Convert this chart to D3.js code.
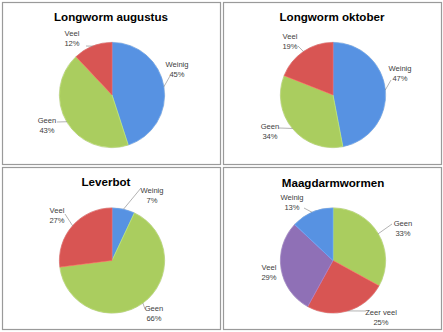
<!DOCTYPE html>
<html><head><meta charset="utf-8">
<script src="https://cdn.jsdelivr.net/npm/d3@7"></script>
<style>
html,body{margin:0;padding:0;background:#fff;}
svg{display:block;}
</style></head>
<body><svg id="c" width="443" height="332"></svg>
<script>
// ---- data ----
const titles = ["Longworm augustus", "Longworm oktober", "Leverbot", "Maagdarmwormen"];
const cats1 = ["Weinig", "Geen", "Veel"];
const vals1 = [45, 43, 12];
const cats2 = ["Weinig", "Geen", "Veel"];
const vals2 = [47, 34, 19];
const cats3 = ["Weinig", "Geen", "Veel"];
const vals3 = [7, 66, 27];
const cats4 = ["Geen", "Zeer veel", "Veel", "Weinig"];
const vals4 = [33, 25, 29, 13];

const colorOf = {"Weinig":"#4b7fc4","Geen":"#93b252","Veel":"#bb4a48","Zeer veel":"#bb4a48"};
const colorOf4 = {"Weinig":"#4b7fc4","Geen":"#93b252","Veel":"#7c619e","Zeer veel":"#bb4a48"};

// ---- layout (not data) ----
const panels = [
  {x:2, y:2, w:218, h:162, cx:112, cy:95, tx:111, ty:21},
  {x:223, y:2, w:218, h:162, cx:333, cy:95, tx:332, ty:21},
  {x:2, y:167, w:218, h:162, cx:112, cy:260.5, tx:106, ty:186},
  {x:223, y:167, w:218, h:162, cx:333, cy:260.5, tx:333, ty:187}
];
// label anchor positions (centre x, first baseline y) per panel, per slice
const labelPos = [
  [[177,67],[47,123],[72,36]],
  [[400,71],[270,129],[290,39]],
  [[152,193],[154,311],[57,213]],
  [[403,226],[381,315],[269,270],[292,200]]
];
// leader end points near the label
const leaderEnd = [
  [[170,76],[57,122],[86,46]],
  [[391,80],[279,128],[298,46]],
  [[141,188],[145,309],[65,214]],
  [[392,224],[366,311],[0,0],[304,208]]
];

const R = 52.5;
const svg = d3.select("#c");
const defs = svg.append("defs");

const datasets = [
  {cats:cats1, vals:vals1, col:colorOf},
  {cats:cats2, vals:vals2, col:colorOf},
  {cats:cats3, vals:vals3, col:colorOf},
  {cats:cats4, vals:vals4, col:colorOf4}
];

const pie = d3.pie().sort(null).value(d => d.v).startAngle(0).endAngle(2*Math.PI);
const arc = d3.arc().innerRadius(0).outerRadius(R);

datasets.forEach((ds, i) => {
  const p = panels[i];
  const g = svg.append("g");
  g.append("rect").attr("x", p.x+0.5).attr("y", p.y+0.5).attr("width", p.w).attr("height", p.h)
    .attr("fill", "#fff").attr("stroke", "#9a9a9a").attr("stroke-width", 1.2);
  g.append("text").attr("x", p.tx).attr("y", p.ty).attr("text-anchor", "middle")
    .attr("font-family", "Liberation Sans, Arial, sans-serif").attr("font-weight", "bold")
    .attr("font-size", 11.6).attr("fill", "#000").text(titles[i]);

  const data = ds.cats.map((c, k) => ({c, v: ds.vals[k]}));
  const arcs = pie(data);
  const pg = g.append("g").attr("transform", `translate(${p.cx},${p.cy})`);

  arcs.forEach((a, k) => {
    const base = d3.color(ds.col[a.data.c]);
    const gid = `grad${i}_${k}`;
    const rg = defs.append("radialGradient").attr("id", gid)
      .attr("gradientUnits", "userSpaceOnUse").attr("cx", p.cx).attr("cy", p.cy).attr("r", R);
    rg.append("stop").attr("offset", "0%").attr("stop-color", base.formatHex());
    rg.append("stop").attr("offset", "93%").attr("stop-color", base.formatHex());
    rg.append("stop").attr("offset", "100%").attr("stop-color", base.brighter(0.4).formatHex());
    pg.append("path").attr("d", arc(a)).attr("fill", `url(#${gid})`)
      .attr("stroke", base.brighter(0.8).formatHex()).attr("stroke-width", 0.7).attr("stroke-linejoin", "round");
  });
  pg.append("circle").attr("r", R + 0.3).attr("fill", "none")
    .attr("stroke", "#7a7a7a").attr("stroke-opacity", 0.35).attr("stroke-width", 0.6);

  // labels
  arcs.forEach((a, k) => {
    const lp = labelPos[i][k];
    const t = g.append("text").attr("x", lp[0]).attr("y", lp[1]).attr("text-anchor", "middle")
      .attr("font-family", "Liberation Sans Narrow, Liberation Sans, Arial, sans-serif")
      .attr("font-size", 7.6).attr("fill", "#404040");
    t.append("tspan").attr("x", lp[0]).text(a.data.c);
    t.append("tspan").attr("x", lp[0]).attr("dy", 9.5).text(a.data.v + "%");
    const le = leaderEnd[i][k];
    if (le[0] > 0) {
      const mid = (a.startAngle + a.endAngle) / 2;
      const ex = p.cx + Math.sin(mid) * R, ey = p.cy - Math.cos(mid) * R;
      g.append("polyline").attr("points", `${ex},${ey} ${le[0]},${le[1]}`)
        .attr("fill", "none").attr("stroke", "#7f7f7f").attr("stroke-width", 0.6);
    }
  });
});
</script></body></html>
